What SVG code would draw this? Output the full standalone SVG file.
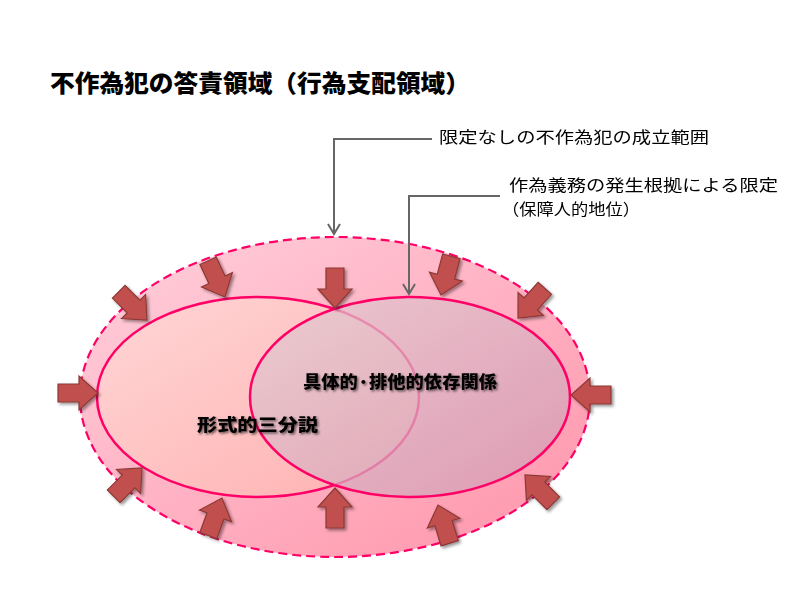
<svg xmlns="http://www.w3.org/2000/svg" width="800" height="600" viewBox="0 0 800 600">
<style>
.cjk{font-family:"Noto Sans CJK JP","Noto Sans CJK SC",sans-serif;}
.title{font-size:24px;font-weight:900;fill:#000;}
.note{font-size:16px;font-weight:400;fill:#000;}
.lab{font-size:17px;font-weight:900;fill:#000;}
.lead{fill:none;stroke:#666;stroke-width:2;}
.arr{fill:#c0504d;stroke:#8c3836;stroke-width:1.2;stroke-linejoin:miter;}
.ring{stroke:#ff0066;stroke-width:2.5;}
</style>
<defs>
<linearGradient id="gOuter" x1="0" y1="0" x2="1" y2="1">
<stop offset="0" stop-color="#ffd0dc"/>
<stop offset="1" stop-color="#ff94aa"/>
</linearGradient>
<linearGradient id="gLeft" x1="0" y1="0" x2="1" y2="1">
<stop offset="0" stop-color="#ffd6d6"/>
<stop offset="1" stop-color="#ffb0b0"/>
</linearGradient>
<linearGradient id="gRight" x1="0" y1="0" x2="1" y2="1">
<stop offset="0" stop-color="#e4cbd2"/>
<stop offset="1" stop-color="#d09ab3"/>
</linearGradient>
<filter id="sh" x="-30%" y="-30%" width="160%" height="160%">
<feDropShadow dx="2" dy="2" stdDeviation="1.5" flood-color="#000" flood-opacity="0.4"/>
</filter>
<filter id="tsh" x="-10%" y="-30%" width="120%" height="160%">
<feDropShadow dx="1.5" dy="1.5" stdDeviation="1.2" flood-color="#000" flood-opacity="0.6"/>
</filter>
<path id="ba" d="M-9,-40 H9 V-19 H17 L0,0 L-17,-19 H-9 Z"/>
</defs>

<g id="title">
<text class="cjk title" x="50" y="92" textLength="420" lengthAdjust="spacingAndGlyphs">不作為犯の答責領域（行為支配領域）</text>
</g>

<g id="outer">
<ellipse cx="335" cy="397" rx="255" ry="160" fill="url(#gOuter)" stroke="#ff0066" stroke-width="2.2" stroke-dasharray="9 5"/>
</g>

<g id="left-ellipse">
<ellipse class="ring" cx="258" cy="397" rx="161" ry="100" fill="url(#gLeft)"/>
</g>

<g id="right-ellipse">
<ellipse cx="411" cy="397" rx="160" ry="100" fill="url(#gRight)" fill-opacity="0.72" stroke="none"/>
<path class="ring" fill="none" d="M334,309 A160,100 0 1 1 334,485"/>
<path class="ring" fill="none" d="M334,309 A160,100 0 0 0 334,485"/>
</g>

<g id="labels">
<text class="cjk lab" x="303" y="388" textLength="194" lengthAdjust="spacingAndGlyphs" filter="url(#tsh)">具体的·排他的依存関係</text>
<text class="cjk lab" x="197" y="431" textLength="121" lengthAdjust="spacingAndGlyphs" filter="url(#tsh)">形式的三分説</text>
</g>

<g id="arrows" filter="url(#sh)">
<use href="#ba" class="arr" transform="translate(147,320) rotate(-45)"/>
<use href="#ba" class="arr" transform="translate(225,297) rotate(-25)"/>
<use href="#ba" class="arr" transform="translate(335,308)"/>
<use href="#ba" class="arr" transform="translate(441,295) rotate(15)"/>
<use href="#ba" class="arr" transform="translate(518,318) rotate(42)"/>
<use href="#ba" class="arr" transform="translate(571,395) rotate(90)"/>
<use href="#ba" class="arr" transform="translate(525,475) rotate(135)"/>
<use href="#ba" class="arr" transform="translate(438,505) rotate(163)"/>
<use href="#ba" class="arr" transform="translate(335,488) rotate(180)"/>
<use href="#ba" class="arr" transform="translate(222,498) rotate(200)"/>
<use href="#ba" class="arr" transform="translate(142,468) rotate(225)"/>
<use href="#ba" class="arr" transform="translate(98,393) rotate(-90)"/>
</g>

<g id="connectors">
<polyline class="lead" points="432,139 334,139 334,234"/>
<polyline class="lead" points="328,224 334,234 340,224"/>
<polyline class="lead" points="500,196 409,196 409,294"/>
<polyline class="lead" points="403,284 409,294 415,284"/>
</g>

<g id="note1">
<text class="cjk note" x="439" y="143" textLength="270" lengthAdjust="spacingAndGlyphs">限定なしの不作為犯の成立範囲</text>
</g>
<g id="note2">
<text class="cjk note" x="509" y="191" textLength="269" lengthAdjust="spacingAndGlyphs">作為義務の発生根拠による限定</text>
<text class="cjk note" x="502" y="215" textLength="138" lengthAdjust="spacingAndGlyphs">（保障人的地位）</text>
</g>
</svg>
